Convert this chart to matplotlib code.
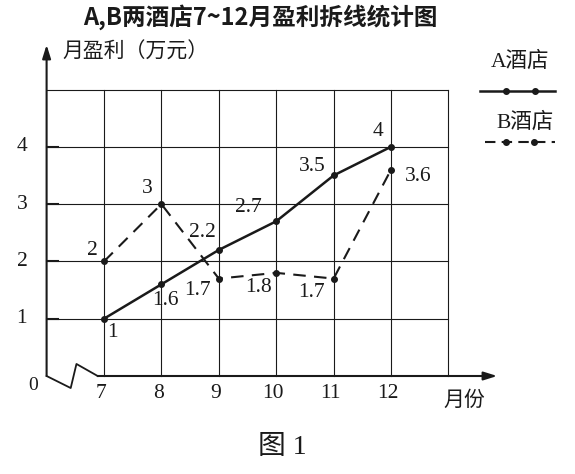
import matplotlib.pyplot as plt

# data
months = [7, 8, 9, 10, 11, 12]
hotel_a = [1, 1.6, 2.2, 2.7, 3.5, 4]
hotel_b = [2, 3, 1.7, 1.8, 1.7, 3.6]
a_labels = ['1', '1.6', '2.2', '2.7', '3.5', '4']
b_labels = ['2', '3', '1.7', '1.8', '1.7', '3.6']
y_ticks = [1, 2, 3, 4]

# label offsets in pixels (dx right, dy down)
a_off = [(8, 14), (4, 16), (-16, -17), (-28, -14), (-21, -9), (-13, -15)]
b_off = [(-12, -11), (-14, -16), (-21, 12), (-18, 15), (-22, 14), (27, 7)]

ink = '#1a1a1a'
num_font = ['Liberation Serif', 'Noto Sans CJK SC']
cjk_font = ['Noto Sans CJK SC', 'DejaVu Sans']

W, H = 575, 474
fig = plt.figure(figsize=(W / 100, H / 100), dpi=100)
ax = fig.add_axes([0, 0, 1, 1])
ax.set_axis_off()

# pixel mapping: x=7 at px 104, 57.4 px per month; y=0 at px 376, 57.3 px per unit
sx, sy = 57.4, 57.3
ax.set_xlim(7 - 104 / sx, 7 + (W - 104) / sx)
ax.set_ylim(-(H - 376) / sy, 376 / sy)

# grid
for v in range(1, 6):
    ax.plot([6, 13], [v, v], color=ink, lw=0.8, zorder=1)
for m in range(7, 14):
    ax.plot([m, m], [0, 5], color=ink, lw=0.8, zorder=1)

# axes with arrows and broken x-axis
ax.annotate('', xy=(6, 5.78), xytext=(6, 0),
            arrowprops=dict(arrowstyle='-|>,head_length=0.8,head_width=0.25',
                            color=ink, lw=1.5, shrinkA=0, shrinkB=0))
ax.annotate('', xy=(13.85, 0), xytext=(6.89, 0),
            arrowprops=dict(arrowstyle='-|>,head_length=0.8,head_width=0.25',
                            color=ink, lw=1.5, shrinkA=0, shrinkB=0))
ax.plot([6, 6.42, 6.52, 6.89], [0, -0.21, 0.21, 0], color=ink, lw=1.3)
for v in y_ticks:
    ax.plot([6, 6.2], [v, v], color=ink, lw=1.5)

# series
ax.plot(months, hotel_a, color=ink, lw=1.8, marker='o', ms=4, zorder=3)
ax.plot(months, hotel_b, color=ink, lw=1.5, ls=(0, (6, 4)), marker='o', ms=4, zorder=3)

for m, v, t, (dx, dy) in zip(months, hotel_a, a_labels, a_off):
    ax.annotate(t, (m, v), xytext=(dx * 0.72, -dy * 0.72), textcoords='offset points',
                ha='center', va='center', fontsize=15.5, family=num_font, color=ink)
for m, v, t, (dx, dy) in zip(months, hotel_b, b_labels, b_off):
    ax.annotate(t, (m, v), xytext=(dx * 0.72, -dy * 0.72), textcoords='offset points',
                ha='center', va='center', fontsize=15.5, family=num_font, color=ink)

# tick labels
for v in y_ticks:
    ax.text(5.57, v, str(v), ha='center', va='center', fontsize=15.5, family=num_font, color=ink)
ax.text(5.76, -0.16, '0', ha='center', va='center', fontsize=14, family=num_font, color=ink)
for m in months:
    ax.text(m - 0.05, -0.30, str(m), ha='center', va='center', fontsize=15.5, family=num_font, color=ink)

# legend drawn by hand: text above a sample line
ax.plot([13.55, 14.86], [4.97, 4.97], color=ink, lw=1.8)
ax.plot([14.0, 14.51], [4.97, 4.97], ls='none', marker='o', ms=4, color=ink)
ax.plot([13.64, 14.86], [4.08, 4.08], color=ink, lw=1.5, ls=(0, (5, 3)))
ax.plot([14.0, 14.49], [4.08, 4.08], ls='none', marker='o', ms=4, color=ink)
ax.text(14.25, 5.48, 'A酒店', ha='center', va='center', fontsize=15.5, family=num_font, color=ink)
ax.text(14.33, 4.43, 'B酒店', ha='center', va='center', fontsize=15.5, family=num_font, color=ink)

# titles and axis names
fig.text(260 / W, 1 - 17 / H, 'A,B两酒店7~12月盈利拆线统计图', ha='center', va='center',
         fontsize=17, fontweight='bold', family=cjk_font, color=ink)
fig.text(62 / W, 1 - 52 / H, '月盈利（万元）', ha='left', va='center',
         fontsize=15, family=cjk_font, color=ink)
fig.text(464 / W, 1 - 400 / H, '月份', ha='center', va='center',
         fontsize=15, family=cjk_font, color=ink)
fig.text(282 / W, 1 - 447 / H, '图 1', ha='center', va='center',
         fontsize=20, family=num_font, color=ink)

fig.savefig('out.png', dpi=100, facecolor='white')
